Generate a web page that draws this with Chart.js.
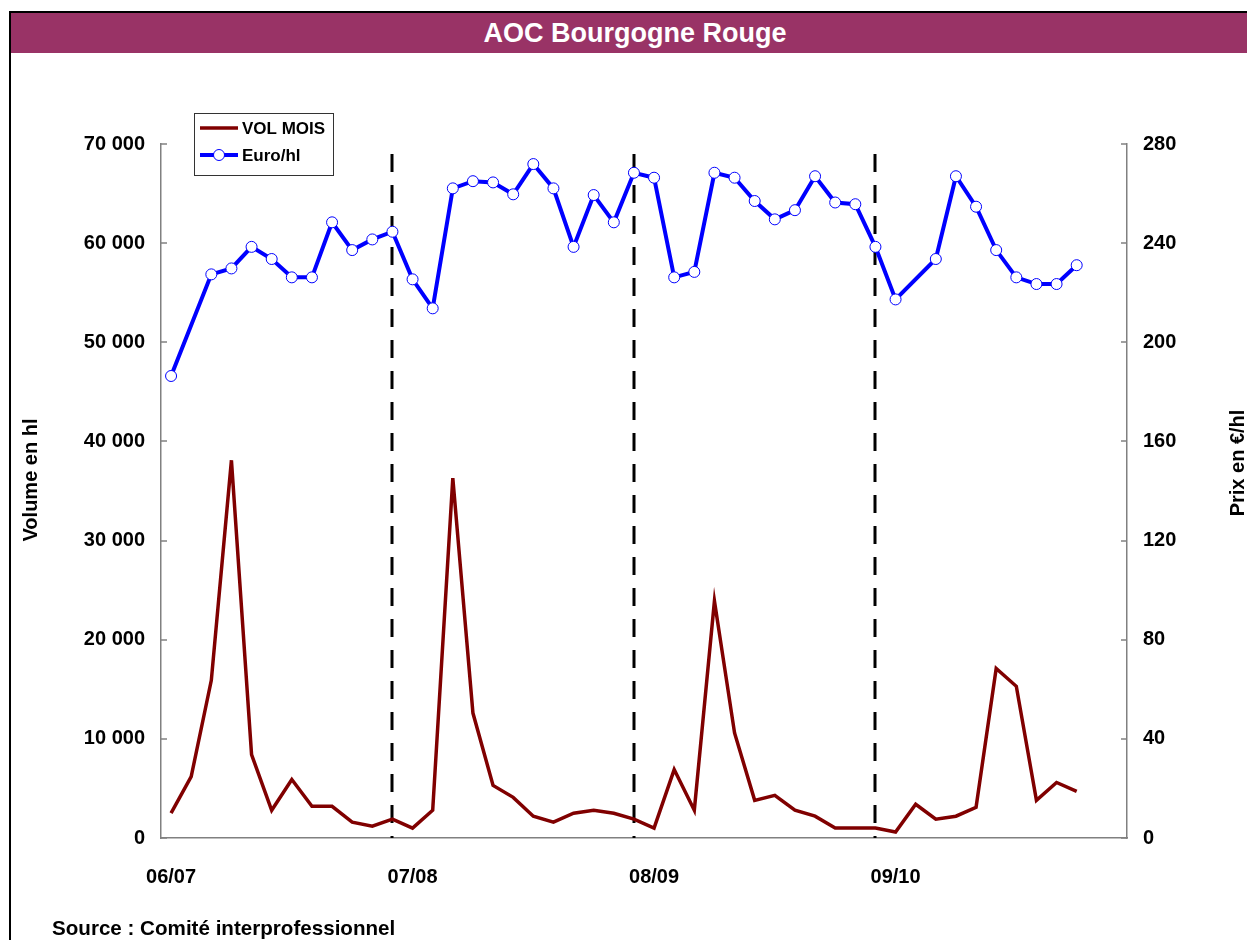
<!DOCTYPE html>
<html>
<head>
<meta charset="utf-8">
<script src="https://cdn.jsdelivr.net/npm/chart.js@4.4.0/dist/chart.umd.min.js"></script>
<style>
html,body{margin:0;padding:0;background:#fff;overflow:hidden;}
#wrap{position:relative;width:1247px;height:940px;overflow:hidden;font-family:"Liberation Sans",Arial,sans-serif;}
#frame{position:absolute;left:9px;top:11px;width:1300px;height:1000px;border-left:2px solid #000;border-top:2px solid #000;}
#titlebar{position:absolute;left:11px;top:13px;width:1248px;height:40px;background:#993366;color:#fff;font-weight:bold;font-size:27px;line-height:40px;text-align:center;}
#source{position:absolute;left:52px;top:918px;font-weight:bold;font-size:20.6px;line-height:20px;color:#000;}
canvas{position:absolute;left:0;top:0;}
</style>
</head>
<body>
<div id="wrap">
  <canvas id="c" width="1247" height="940"></canvas>
  <div id="frame"></div>
  <div id="titlebar">AOC Bourgogne Rouge</div>
  <div id="source">Source : Comité interprofessionnel</div>
</div>
<script>
// ---- data ----
const seasons = ['06/07', '07/08', '08/09', '09/10'];
const monthsPerSeason = 12;
const seasonBreaks = [11, 23, 35];           // category index of the dashed separators
const volMois = [2500, 6200, 15900, 38100, 8400, 2800, 5900, 3200, 3200, 1600, 1200, 1900,
                 1000, 2800, 36300, 12600, 5300, 4100, 2200, 1600, 2500, 2800, 2500, 1900,
                 1000, 6900, 2800, 23900, 10600, 3800, 4300, 2800, 2200, 1000, 1000, 1000,
                 600, 3400, 1900, 2200, 3100, 17100, 15300, 3800, 5600, 4700];
const euroHl = [186.4, null, 227.4, 229.8, 238.5, 233.6, 226.2, 226.2, 248.4, 237.2, 241.5, 244.6,
                225.4, 213.7, 262.1, 265.0, 264.5, 259.7, 271.9, 262.1, 238.5, 259.4, 248.4, 268.4,
                266.4, 226.2, 228.4, 268.4, 266.4, 257.0, 249.6, 253.3, 267.0, 256.4, 255.7, 238.5,
                217.3, null, 233.6, 267.0, 254.7, 237.2, 226.2, 223.5, 223.5, 231.1];
const volTicks = {min: 0, max: 70000, step: 10000};
const prixTicks = {min: 0, max: 280, step: 40};

const labels = [];
seasons.forEach(s => { for (let m = 0; m < monthsPerSeason; m++) labels.push(m === 0 ? s : ''); });

const FONT = '"Liberation Sans", Arial, sans-serif';
const fmt = v => String(v).replace(/\B(?=(\d{3})+(?!\d))/g, ' ');

const decor = {
  id: 'decor',
  beforeDatasetsDraw(chart) {
    const ctx = chart.ctx, a = chart.chartArea, x = chart.scales.x;
    ctx.save();
    ctx.strokeStyle = '#000'; ctx.lineWidth = 3; ctx.setLineDash([18, 13]);
    seasonBreaks.forEach(i => {
      const px = Math.round(x.getPixelForValue(i));
      ctx.beginPath(); ctx.moveTo(px, a.top + 10); ctx.lineTo(px, a.bottom); ctx.stroke();
    });
    ctx.setLineDash([]);
    // inward tick marks
    ctx.strokeStyle = '#808080'; ctx.lineWidth = 1.5;
    const y = chart.scales.y, y1 = chart.scales.y1;
    y.ticks.forEach(t => { const py = Math.round(y.getPixelForValue(t.value)); ctx.beginPath(); ctx.moveTo(a.left, py); ctx.lineTo(a.left + 6, py); ctx.stroke(); });
    y1.ticks.forEach(t => { const py = Math.round(y1.getPixelForValue(t.value)); ctx.beginPath(); ctx.moveTo(a.right, py); ctx.lineTo(a.right - 6, py); ctx.stroke(); });
    ctx.restore();
  },
  afterDraw(chart) {
    const ctx = chart.ctx, a = chart.chartArea;
    ctx.save();
    // axis titles
    ctx.fillStyle = '#000'; ctx.font = 'bold 20px ' + FONT; ctx.textAlign = 'center'; ctx.textBaseline = 'middle';
    ctx.translate(31, 480); ctx.rotate(-Math.PI / 2); ctx.fillText('Volume en hl', 0, 0);
    ctx.setTransform(1, 0, 0, 1, 0, 0);
    ctx.translate(1238, 463); ctx.rotate(-Math.PI / 2); ctx.fillText('Prix en €/hl', 0, 0);
    ctx.setTransform(1, 0, 0, 1, 0, 0);
    // legend box
    const lx = a.left + 33, ly = a.top - 31, lw = 139, lh = 62;
    ctx.fillStyle = '#fff'; ctx.fillRect(lx, ly, lw, lh);
    ctx.strokeStyle = '#333'; ctx.lineWidth = 1; ctx.strokeRect(lx + 0.5, ly + 0.5, lw, lh);
    chart.data.datasets.forEach((ds, i) => {
      const cy = ly + 15 + i * 27;
      ctx.strokeStyle = ds.borderColor; ctx.lineWidth = ds.borderWidth;
      ctx.beginPath(); ctx.moveTo(lx + 6, cy); ctx.lineTo(lx + 44, cy); ctx.stroke();
      if (ds.pointRadius > 0) {
        ctx.fillStyle = ds.pointBackgroundColor; ctx.strokeStyle = ds.pointBorderColor; ctx.lineWidth = ds.pointBorderWidth;
        ctx.beginPath(); ctx.arc(lx + 25, cy, ds.pointRadius, 0, Math.PI * 2); ctx.fill(); ctx.stroke();
      }
      ctx.fillStyle = '#000'; ctx.font = 'bold 17px ' + FONT; ctx.textAlign = 'left'; ctx.textBaseline = 'middle';
      ctx.fillText(ds.label, lx + 48, cy + 1);
    });
    ctx.restore();
  }
};

const tickFont = {family: FONT, size: 20, weight: 'bold'};
new Chart(document.getElementById('c'), {
  type: 'line',
  data: {
    labels: labels,
    datasets: [
      {label: 'VOL MOIS', data: volMois, yAxisID: 'y', borderColor: '#800000', borderWidth: 3.5,
       pointRadius: 0, tension: 0, order: 2},
      {label: 'Euro/hl', data: euroHl, yAxisID: 'y1', borderColor: '#0000FF', borderWidth: 4, spanGaps: true,
       pointRadius: 5.5, pointBackgroundColor: '#FFFFFF', pointBorderColor: '#0000FF', pointBorderWidth: 1,
       tension: 0, order: 1}
    ]
  },
  options: {
    responsive: false, animation: false, devicePixelRatio: 1,
    layout: {padding: {left: 0, right: 0, top: 144, bottom: 0}},
    plugins: {legend: {display: false}, tooltip: {enabled: false}, title: {display: false}},
    scales: {
      x: {
        type: 'category', offset: true,
        grid: {display: false, drawTicks: false},
        border: {display: true, color: '#808080', width: 1.5},
        ticks: {autoSkip: false, maxRotation: 0, minRotation: 0, padding: 27, color: '#000', font: tickFont},
        afterFit(s) { s.height = 102; }
      },
      y: {
        position: 'left', min: volTicks.min, max: volTicks.max,
        grid: {display: false, drawTicks: false},
        border: {display: true, color: '#808080', width: 1.5},
        ticks: {stepSize: volTicks.step, padding: 16, color: '#000', font: tickFont, callback: v => fmt(v)},
        afterFit(s) { s.width = 161; }
      },
      y1: {
        position: 'right', min: prixTicks.min, max: prixTicks.max,
        grid: {display: false, drawTicks: false},
        border: {display: true, color: '#808080', width: 1.5},
        ticks: {stepSize: prixTicks.step, padding: 16, color: '#000', font: tickFont},
        afterFit(s) { s.width = 120; }
      }
    }
  },
  plugins: [decor]
});
</script>
</body>
</html>
